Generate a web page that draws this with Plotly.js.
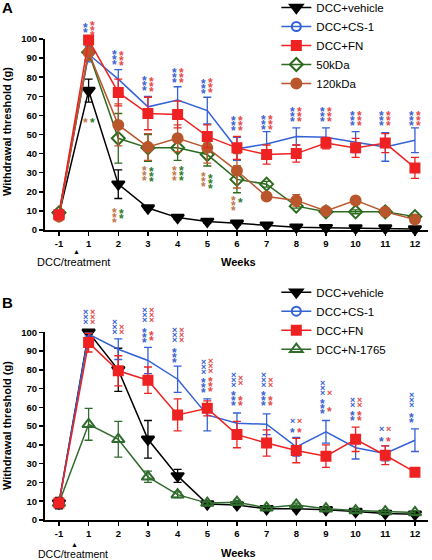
<!DOCTYPE html>
<html>
<head>
<meta charset="utf-8">
<script src="https://cdn.plot.ly/plotly-3.0.1.min.js"></script>
<style>html,body{margin:0;padding:0;background:#fff;}#chart{width:432px;height:560px;}</style>
</head>
<body>
<div id="chart"></div>
<script>
// ---------- data ----------
const weeks = ['-1','1','2','3','4','5','6','7','8','9','10','11','12'];

// Panel A
const vehicleA     = [8, 73, 24, 11.5, 6.5, 4.5, 3.5, 2.5, 1.5, 1.2, 1, 1, 0.5];
const vehicleAErr  = [1, 6, 7.5, 1, 1, 1, 0.8, 0.5, 0.5, 0.5, 0.5, 0.5, 0.5];
const cs1A         = [8, 92, 79, 64.5, 68, 62.5, 42.5, 45, 49, 48.5, 46, 43.5, 47];
const cs1AErr      = [1, 4, 5, 5.5, 7, 7, 6, 6.5, 4.5, 5, 5.5, 7.5, 6.5];
const fnA          = [8, 99.5, 72, 61, 60.5, 49, 43, 39.5, 40, 45.5, 43, 45.5, 32.5];
const fnAErr       = [1.5, 2, 7, 8.5, 7, 6, 6, 5, 4.5, 3, 5, 5, 5.5];
const kda50A       = [9, 93, 48, 43, 43, 39.5, 26.5, 24, 12.5, 9.5, 9.5, 9.5, 7];
const kda50AErr    = [1, 4, 13, 7, 6.5, 6, 7, 1.5, 1, 2, 1, 1, 1];
const kda120A      = [7, 93, 55, 43.5, 48, 43, 31, 17.5, 15.5, 10, 15.5, 9.5, 5.5];
const kda120AErr   = [1, 4, 11, 7, 7, 8, 9, 2, 3, 1.5, 2, 1.5, 1.5];

// Panel B
const vehicleB     = [9, 100, 80, 43, 23.5, 8.5, 8, 6, 6, 5.5, 4.5, 3.5, 3];
const vehicleBErr  = [3, 1, 11.5, 10, 3.5, 1, 1, 1, 1, 1, 1, 1, 1];
const cs1B         = [9, 99, 91, 85, 75, 56, 51.5, 51, 39, 47, 38.5, 35.5, 42.5];
const cs1BErr      = [1, 1, 5.5, 7, 7, 8.5, 5.5, 5.5, 5, 6, 6, 4, 6];
const fnB          = [9, 94.5, 79.5, 74.5, 56, 59.5, 45.5, 41, 37, 34, 43, 34.5, 25.5];
const fnBErr       = [2, 5, 8, 7, 8.5, 4, 7, 7, 6.5, 6, 6.5, 5, 1];
const n1765B       = [9, 51, 43, 23, 13.5, 9, 9.5, 6.5, 8, 6, 5, 4.5, 4];
const n1765BErr    = [2, 8.5, 9.5, 3, 1.5, 1, 1, 1, 1, 1, 1, 1, 1];

const yTicks = [0,10,20,30,40,50,60,70,80,90,100];

// significance marks: [week, series, glyph, count, value of top mark]
const starsA = [
  ['1','cs1','*',2,107.3], ['1','fn','*',3,108.4],
  ['2','cs1','*',3,93.2],  ['2','fn','*',3,92.7],
  ['3','cs1','*',3,79.6],  ['3','fn','*',3,79.0],
  ['4','cs1','*',3,83.8],  ['4','fn','*',3,83.8],
  ['5','cs1','*',3,78.0],  ['5','fn','*',3,78.5],
  ['6','cs1','*',3,58.6],  ['6','fn','*',3,58.6],
  ['7','cs1','*',3,59.2],  ['7','fn','*',3,59.2],
  ['8','cs1','*',3,63.4],  ['8','fn','*',3,63.4],
  ['9','cs1','*',3,63.4],  ['9','fn','*',3,63.4],
  ['10','cs1','*',3,61.3], ['10','fn','*',3,61.3],
  ['11','cs1','*',3,61.3], ['11','fn','*',3,61.3],
  ['12','cs1','*',3,61.3], ['12','fn','*',3,61.3],
  ['1','k120','*',1,57.6], ['1','k50','*',1,57.6],
  ['2','k120','*',3,10.5], ['2','k50','*',2,10.0],
  ['3','k120','*',3,32.5], ['3','k50','*',3,32.0],
  ['4','k120','*',3,32.5], ['4','k50','*',3,32.5],
  ['5','k120','*',3,29.3], ['5','k50','*',3,28.3],
  ['6','k120','*',3,16.8], ['6','k50','*',1,15.7]
];
const starsB = [
  ['1','cs1','×',3,111.0], ['1','fn','×',3,111.0],
  ['2','cs1','×',3,105.5], ['2','fn','×',2,102.8],
  ['3','cs1','×',3,111.9], ['3','cs1','*',3,101.2], ['3','fn','×',3,111.9], ['3','fn','*',2,99.6],
  ['4','cs1','×',3,101.2], ['4','cs1','*',3,90.6],  ['4','fn','×',3,101.2],
  ['5','cs1','×',3,84.2],  ['5','cs1','*',3,74.6],  ['5','fn','×',3,84.7],  ['5','fn','*',3,75.1],
  ['6','cs1','×',3,77.3],  ['6','cs1','*',3,67.7],  ['6','fn','×',2,75.7],  ['6','fn','*',2,65.0],
  ['7','cs1','×',3,77.3],  ['7','cs1','*',3,67.7],  ['7','fn','×',2,74.6],  ['7','fn','*',2,65.0],
  ['8','cs1','×',1,52.9],  ['8','cs1','*',1,48.2],  ['8','fn','×',1,53.0],  ['8','fn','*',1,48.2],
  ['9','cs1','×',3,73.0],  ['9','cs1','*',3,63.6],  ['9','fn','×',1,67.5],  ['9','fn','*',1,59.1],
  ['10','cs1','×',2,63.9], ['10','cs1','*',2,56.8], ['10','fn','×',2,63.9], ['10','fn','*',2,56.8],
  ['11','cs1','×',1,48.3], ['11','cs1','*',1,43.3], ['11','fn','×',1,48.3], ['11','fn','*',1,43.3],
  ['12','cs1','×',3,66.6], ['12','cs1','*',2,55.9]
];

// ---------- styles ----------
const FONT = 'Liberation Sans, Arial, sans-serif';
const C = {
  veh: '#000000', cs1: '#3462d6', fn: '#ee2222', k50: '#2c6b1e', k120: '#b9562c', n1765: '#2f6b2c'
};
const starColor = { cs1: '#3a63d3', fn: '#e64a4a', k50: '#2f7a26', k120: '#c07850' };
const starShift = { cs1: -3.5, fn: 3.5, k120: -3.5, k50: 3.5 };
const domA = [1 - 230/560, 1 - 39/560];
const domB = [1 - 520/560, 1 - 332.3/560];
// CS-1 is drawn as a line; only its first (hidden) marker carries the colour used by the legend key
const cs1MarkerColors = weeks.map(function (w, i) { return i === 0 ? C.cs1 : 'rgba(0,0,0,0)'; });

function err(arr, color) {
  return { type: 'data', array: arr, visible: true, color: color, thickness: 1.3, width: 4 };
}
function tr(y, e, name, color, symbol, size, xa, ya, legend, rank, mcolor) {
  return {
    x: weeks, y: y, name: name, type: 'scatter', mode: 'lines+markers',
    xaxis: xa, yaxis: ya, legend: legend, legendrank: rank, cliponaxis: false,
    line: { color: color, width: 1.5 },
    marker: { symbol: symbol, size: size, color: mcolor || color, line: { color: mcolor || color, width: 2 } },
    error_y: err(e, color)
  };
}

const data = [
  // Panel A
  tr(vehicleA, vehicleAErr, 'DCC+vehicle', C.veh, 'triangle-down', 11, 'x', 'y', 'legend', 1),
  tr(cs1A, cs1AErr, 'DCC+CS-1', C.cs1, 'circle-open', 9, 'x', 'y', 'legend', 2, cs1MarkerColors),
  tr(kda50A, kda50AErr, '50kDa', C.k50, 'diamond-open', 10, 'x', 'y', 'legend', 4),
  tr(kda120A, kda120AErr, '120kDa', C.k120, 'circle', 10, 'x', 'y', 'legend', 5),
  tr(fnA, fnAErr, 'DCC+FN', C.fn, 'square', 9, 'x', 'y', 'legend', 3),
  // Panel B
  tr(vehicleB, vehicleBErr, 'DCC+vehicle', C.veh, 'triangle-down', 11, 'x2', 'y2', 'legend2', 1),
  tr(cs1B, cs1BErr, 'DCC+CS-1', C.cs1, 'circle-open', 9, 'x2', 'y2', 'legend2', 2, cs1MarkerColors),
  tr(n1765B, n1765BErr, 'DCC+N-1765', C.n1765, 'triangle-up-open', 11, 'x2', 'y2', 'legend2', 4),
  tr(fnB, fnBErr, 'DCC+FN', C.fn, 'square', 9, 'x2', 'y2', 'legend2', 3)
];

// ---------- annotations ----------
function paperY(dom, v) { return dom[0] + v / 100 * (dom[1] - dom[0]); }
const annotations = [];
function addStars(list, dom, xref) {
  list.forEach(function (s) {
    const week = s[0], ser = s[1], glyph = s[2], n = s[3], top = s[4];
    for (let i = 0; i < n; i++) {
      annotations.push({
        xref: xref, x: weeks.indexOf(week), yref: 'paper', y: paperY(dom, top),
        xshift: starShift[ser], yshift: -i * 5 + (glyph === '*' ? -3 : 0),
        text: glyph, showarrow: false, xanchor: 'center', yanchor: 'middle',
        font: { family: FONT, size: glyph === '*' ? 12 : 9, color: starColor[ser], weight: 'bold' }
      });
    }
  });
}
addStars(starsA, domA, 'x');
addStars(starsB, domB, 'x2');

function txt(text, px, py, size, bold, extra) {
  return Object.assign({
    xref: 'paper', yref: 'paper', x: (px - 45) / 383, y: 1 - py / 560, text: text,
    showarrow: false, xanchor: 'center', yanchor: 'middle',
    font: { family: FONT, size: size, color: '#000', weight: bold ? 'bold' : 'normal' }
  }, extra || {});
}
annotations.push(
  txt('A', 7, 8, 15, true),
  txt('B', 7.5, 302, 15, true),
  txt('Withdrawal threshold (g)', 7, 132, 11, true, { textangle: -90 }),
  txt('Withdrawal threshold (g)', 7, 426, 11, true, { textangle: -90 }),
  txt('Weeks', 238, 262, 11, true),
  txt('Weeks', 238.5, 552.5, 11, true),
  txt('DCC/treatment', 73.5, 261.7, 11, false),
  txt('DCC/treatment', 72.5, 553.5, 10.5, false),
  txt('▲', 76, 251.7, 7, false),
  txt('▲', 74, 544, 7, false)
);

// ---------- layout ----------
function xAxis(anchor) {
  return {
    type: 'category', categoryorder: 'array', categoryarray: weeks, anchor: anchor,
    domain: [0, 1], range: [-0.47, 12.44], showline: true, linecolor: '#000', linewidth: 2,
    ticks: 'outside', ticklen: 4, tickwidth: 1.5, tickcolor: '#000', showgrid: false, zeroline: false,
    tickfont: { family: FONT, size: 9.5, color: '#000', weight: 'bold' }
  };
}
function yAxis(anchor, dom) {
  return {
    anchor: anchor, domain: dom, range: [0, 100], tickmode: 'array', tickvals: yTicks,
    showline: true, linecolor: '#000', linewidth: 2, ticks: 'outside', ticklen: 4, tickwidth: 1.5,
    tickcolor: '#000', showgrid: false, zeroline: false,
    tickfont: { family: FONT, size: 9.5, color: '#000', weight: 'bold' }
  };
}
const legendFont = { family: FONT, size: 11.5, color: '#000' };
const layout = {
  width: 432, height: 560, margin: { l: 45, r: 4, t: 0, b: 0, autoexpand: false },
  paper_bgcolor: '#fff', plot_bgcolor: '#fff', showlegend: true,
  xaxis: xAxis('y'), yaxis: yAxis('x', domA),
  xaxis2: xAxis('y2'), yaxis2: yAxis('x2', domB),
  legend: { x: 0.604, xanchor: 'left', y: 1.0125, yanchor: 'top', font: legendFont,
            bgcolor: 'rgba(0,0,0,0)', tracegroupgap: 0, traceorder: 'normal' },
  legend2: { x: 0.604, xanchor: 'left', y: 0.5041, yanchor: 'top', font: legendFont,
             bgcolor: 'rgba(0,0,0,0)', tracegroupgap: 0, traceorder: 'normal' },
  annotations: annotations
};

Plotly.newPlot('chart', data, layout, { displayModeBar: false, staticPlot: true });
</script>
</body>
</html>
